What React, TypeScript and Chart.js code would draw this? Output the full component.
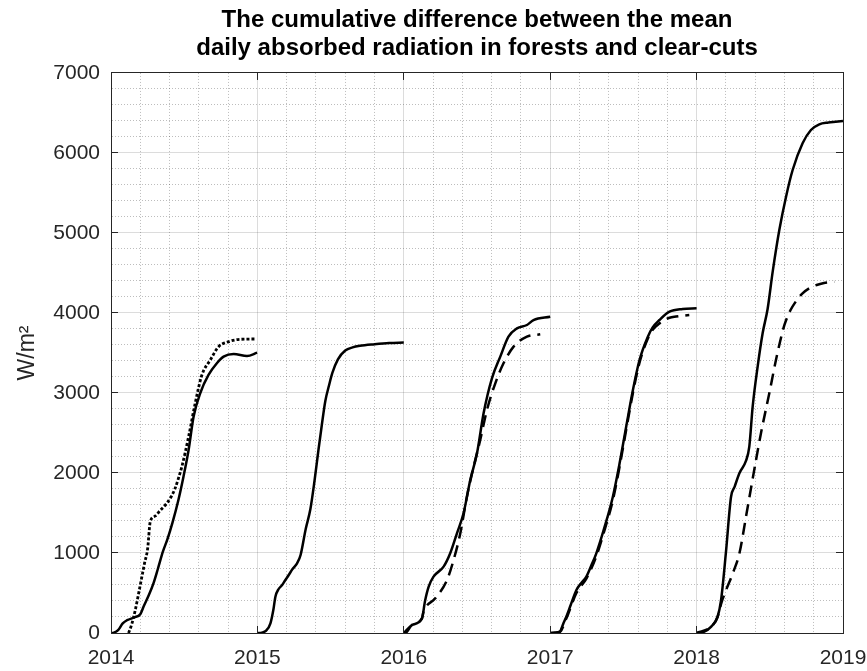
import React, { useEffect, useRef } from "react";
import { Chart, registerables } from "chart.js";

Chart.register(...registerables);

const TITLE_LINES = [
  "The cumulative difference between the mean",
  "daily absorbed radiation in forests and clear-cuts",
];
const Y_TITLE = "W/m²";
const X_MIN = 2014;
const X_MAX = 2019;
const Y_MIN = 0;
const Y_MAX = 7000;
const X_MAJOR = [2014, 2015, 2016, 2017, 2018, 2019];
const Y_MAJOR = [0, 1000, 2000, 3000, 4000, 5000, 6000, 7000];

// Each series: fraction of the year (t) and cumulative value (W/m2)
const SOLID_2014_T = [0, 0.02, 0.05, 0.08, 0.11, 0.16, 0.2, 0.225, 0.26, 0.29, 0.32, 0.355, 0.385, 0.42, 0.46, 0.495, 0.53, 0.564, 0.61, 0.666, 0.723, 0.769, 0.838, 0.929, 0.998];
const SOLID_2014_V = [0, 5, 40, 120, 160, 195, 235, 340, 480, 620, 800, 1020, 1170, 1380, 1660, 1954, 2287, 2704, 3000, 3225, 3371, 3454, 3487, 3462, 3504];

const DOTTED_2014_T = [0.12, 0.14, 0.165, 0.2, 0.23, 0.25, 0.268, 0.3, 0.34, 0.381, 0.41, 0.438, 0.46, 0.484, 0.53, 0.575, 0.621, 0.678, 0.735, 0.804, 0.884, 0.993];
const DOTTED_2014_V = [0, 100, 280, 600, 880, 1050, 1390, 1460, 1540, 1621, 1700, 1808, 1930, 2079, 2454, 2871, 3225, 3412, 3579, 3642, 3671, 3675];

const SOLID_2015_T = [0, 0.03, 0.06, 0.089, 0.11, 0.123, 0.145, 0.169, 0.19, 0.214, 0.24, 0.271, 0.295, 0.33, 0.362, 0.39, 0.417, 0.44, 0.464, 0.49, 0.512, 0.55, 0.6, 0.65, 0.7, 0.8, 0.9, 1.0];
const SOLID_2015_V = [0, 5, 30, 121, 300, 454, 550, 600, 660, 725, 800, 871, 975, 1300, 1550, 1900, 2287, 2600, 2900, 3100, 3250, 3420, 3530, 3570, 3590, 3610, 3625, 3630];

const SOLID_2016_T = [0, 0.01, 0.056, 0.124, 0.145, 0.17, 0.203, 0.272, 0.317, 0.363, 0.408, 0.454, 0.5, 0.545, 0.602, 0.659, 0.715, 0.773, 0.841, 0.886, 1.0];
const SOLID_2016_V = [0, 0, 100, 183, 400, 579, 704, 829, 996, 1246, 1496, 1912, 2246, 2746, 3183, 3454, 3704, 3808, 3850, 3912, 3954];

const DASHED_2016_T = [0, 0.056, 0.124, 0.135, 0.215, 0.295, 0.34, 0.386, 0.431, 0.477, 0.522, 0.568, 0.625, 0.681, 0.75, 0.841, 0.932];
const DASHED_2016_V = [0, 100, 183, 267, 433, 662, 912, 1246, 1704, 2079, 2412, 2787, 3121, 3371, 3579, 3704, 3733];

const SOLID_2017_T = [0, 0.03, 0.065, 0.09, 0.11, 0.14, 0.179, 0.21, 0.247, 0.28, 0.315, 0.372, 0.428, 0.474, 0.519, 0.565, 0.61, 0.667, 0.7, 0.746, 0.815, 0.905, 1.0];
const SOLID_2017_V = [0, 5, 17, 120, 204, 350, 537, 620, 704, 840, 996, 1329, 1704, 2121, 2579, 3037, 3412, 3704, 3820, 3912, 4016, 4050, 4058];

const DASHED_2017_T = [0.03, 0.065, 0.11, 0.179, 0.247, 0.315, 0.372, 0.428, 0.474, 0.519, 0.565, 0.61, 0.667, 0.7, 0.746, 0.815, 0.86, 0.95];
const DASHED_2017_V = [0, 10, 180, 500, 680, 960, 1290, 1660, 2080, 2540, 3000, 3380, 3680, 3790, 3870, 3940, 3955, 3975];

const SOLID_2018_T = [0, 0.05, 0.1, 0.143, 0.167, 0.2, 0.235, 0.26, 0.293, 0.337, 0.36, 0.383, 0.417, 0.451, 0.485, 0.52, 0.565, 0.611, 0.656, 0.724, 0.781, 0.838, 0.9, 0.95, 1.0];
const SOLID_2018_V = [0, 15, 80, 200, 410, 1000, 1700, 1830, 2000, 2150, 2330, 2830, 3330, 3746, 4050, 4520, 5037, 5454, 5787, 6121, 6287, 6358, 6380, 6390, 6400];

const DASHED_2018_T = [0, 0.1, 0.143, 0.17, 0.2, 0.25, 0.293, 0.34, 0.39, 0.44, 0.497, 0.55, 0.6, 0.64, 0.68, 0.72, 0.77, 0.82, 0.87, 0.94];
const DASHED_2018_V = [0, 80, 200, 380, 530, 760, 1000, 1480, 2000, 2500, 3000, 3480, 3850, 4030, 4150, 4240, 4310, 4350, 4375, 4392];

const FONT = "'Liberation Sans', Arial, Helvetica, sans-serif";

type Style = "solid" | "dashed" | "dotted";

function makeSeries(year: number, t: number[], v: number[], style: Style) {
  const dash = style === "solid" ? [] : style === "dashed" ? [12, 7] : [3, 2];
  return {
    data: t.map((tt, i) => ({ x: year + tt, y: v[i] })),
    borderColor: "#000000",
    backgroundColor: "#000000",
    borderWidth: style === "dotted" ? 2.8 : 2.5,
    borderDash: dash,
    pointRadius: 0,
    pointHoverRadius: 0,
    cubicInterpolationMode: "monotone" as const,
    borderJoinStyle: "round" as const,
    fill: false,
  };
}

const isMajorX = (v: number) => Math.abs(v - Math.round(v)) < 1e-6;
const isMajorY = (v: number) => Math.abs(v / 1000 - Math.round(v / 1000)) < 1e-6;

const boxPlugin = {
  id: "matlabBox",
  afterDraw(chart: any) {
    const { ctx, chartArea } = chart;
    const { left, right, top, bottom } = chartArea;
    const xs = chart.scales.x;
    const ys = chart.scales.y;
    const al = (p: number) => Math.round(p - 0.5) + 0.5;
    ctx.save();
    ctx.strokeStyle = "#262626";
    ctx.lineWidth = 1;
    ctx.setLineDash([]);
    ctx.strokeRect(al(left), al(top), al(right) - al(left), al(bottom) - al(top));
    const L = 7;
    ctx.beginPath();
    X_MAJOR.forEach((v) => {
      const px = al(xs.getPixelForValue(v));
      ctx.moveTo(px, bottom);
      ctx.lineTo(px, bottom - L);
      ctx.moveTo(px, top);
      ctx.lineTo(px, top + L);
    });
    Y_MAJOR.forEach((v) => {
      const py = al(ys.getPixelForValue(v));
      ctx.moveTo(left, py);
      ctx.lineTo(left + L, py);
      ctx.moveTo(right, py);
      ctx.lineTo(right - L, py);
    });
    ctx.stroke();
    ctx.restore();
  },
};

export default function App() {
  const ref = useRef<HTMLCanvasElement | null>(null);

  useEffect(() => {
    if (!ref.current) return;
    const datasets = [
      makeSeries(2014, DOTTED_2014_T, DOTTED_2014_V, "dotted"),
      makeSeries(2014, SOLID_2014_T, SOLID_2014_V, "solid"),
      makeSeries(2015, SOLID_2015_T, SOLID_2015_V, "solid"),
      makeSeries(2016, DASHED_2016_T, DASHED_2016_V, "dashed"),
      makeSeries(2016, SOLID_2016_T, SOLID_2016_V, "solid"),
      makeSeries(2017, DASHED_2017_T, DASHED_2017_V, "dashed"),
      makeSeries(2017, SOLID_2017_T, SOLID_2017_V, "solid"),
      makeSeries(2018, DASHED_2018_T, DASHED_2018_V, "dashed"),
      makeSeries(2018, SOLID_2018_T, SOLID_2018_V, "solid"),
    ];

    const gridColor = (major: boolean) => (major ? "rgba(38,38,38,0.16)" : "rgba(38,38,38,0.3)");

    const chart = new Chart(ref.current, {
      type: "line",
      data: { datasets },
      plugins: [boxPlugin],
      options: {
        animation: false,
        responsive: false,
        events: [],
        layout: { padding: { top: 0, right: 24, bottom: 0, left: 0 } },
        plugins: {
          legend: { display: false },
          tooltip: { enabled: false },
          title: {
            display: true,
            fullSize: false,
            text: TITLE_LINES,
            color: "#000000",
            font: { family: FONT, size: 24, weight: "bold", lineHeight: 1.17 },
            padding: { top: 6, bottom: 10.8 },
          },
        },
        scales: {
          x: {
            type: "linear",
            min: X_MIN,
            max: X_MAX,
            afterFit: (s: any) => {
              s.height = 38;
              s.paddingLeft = 20;
              s.paddingRight = 20;
            },
            ticks: {
              stepSize: 0.2,
              autoSkip: false,
              maxRotation: 0,
              minRotation: 0,
              padding: 13,
              color: "#262626",
              font: { family: FONT, size: 21 },
              callback: (v: any) => (isMajorX(Number(v)) ? String(Math.round(Number(v))) : ""),
            },
            grid: {
              drawTicks: false,
              lineWidth: 1,
              color: (c: any) => (c.tick ? gridColor(isMajorX(c.tick.value)) : "#262626"),
            },
            border: {
              display: true,
              color: "#262626",
              width: 1,
              dash: (c: any) => (c.tick && !isMajorX(c.tick.value) ? [1, 2] : []),
            },
          },
          y: {
            type: "linear",
            min: Y_MIN,
            max: Y_MAX,
            afterFit: (s: any) => {
              s.width = 111;
              s.paddingTop = 10;
              s.paddingBottom = 10;
            },
            title: {
              display: true,
              text: Y_TITLE,
              color: "#262626",
              font: { family: FONT, size: 23 },
              padding: { top: 14, bottom: 0 },
            },
            ticks: {
              stepSize: 200,
              autoSkip: false,
              padding: 11,
              color: "#262626",
              font: { family: FONT, size: 21 },
              callback: (v: any) => (isMajorY(Number(v)) ? String(Math.round(Number(v))) : ""),
            },
            grid: {
              drawTicks: false,
              lineWidth: 1,
              color: (c: any) => (c.tick ? gridColor(isMajorY(c.tick.value)) : "#262626"),
            },
            border: {
              display: true,
              color: "#262626",
              width: 1,
              dash: (c: any) => (c.tick && !isMajorY(c.tick.value) ? [1, 2] : []),
            },
          },
        },
      } as any,
    });
    return () => chart.destroy();
  }, []);

  return (
    <div style={{ position: "absolute", left: 0, top: 0, width: 867, height: 671, background: "#ffffff" }}>
      <canvas ref={ref} width={867} height={671} style={{ display: "block" }} />
    </div>
  );
}
